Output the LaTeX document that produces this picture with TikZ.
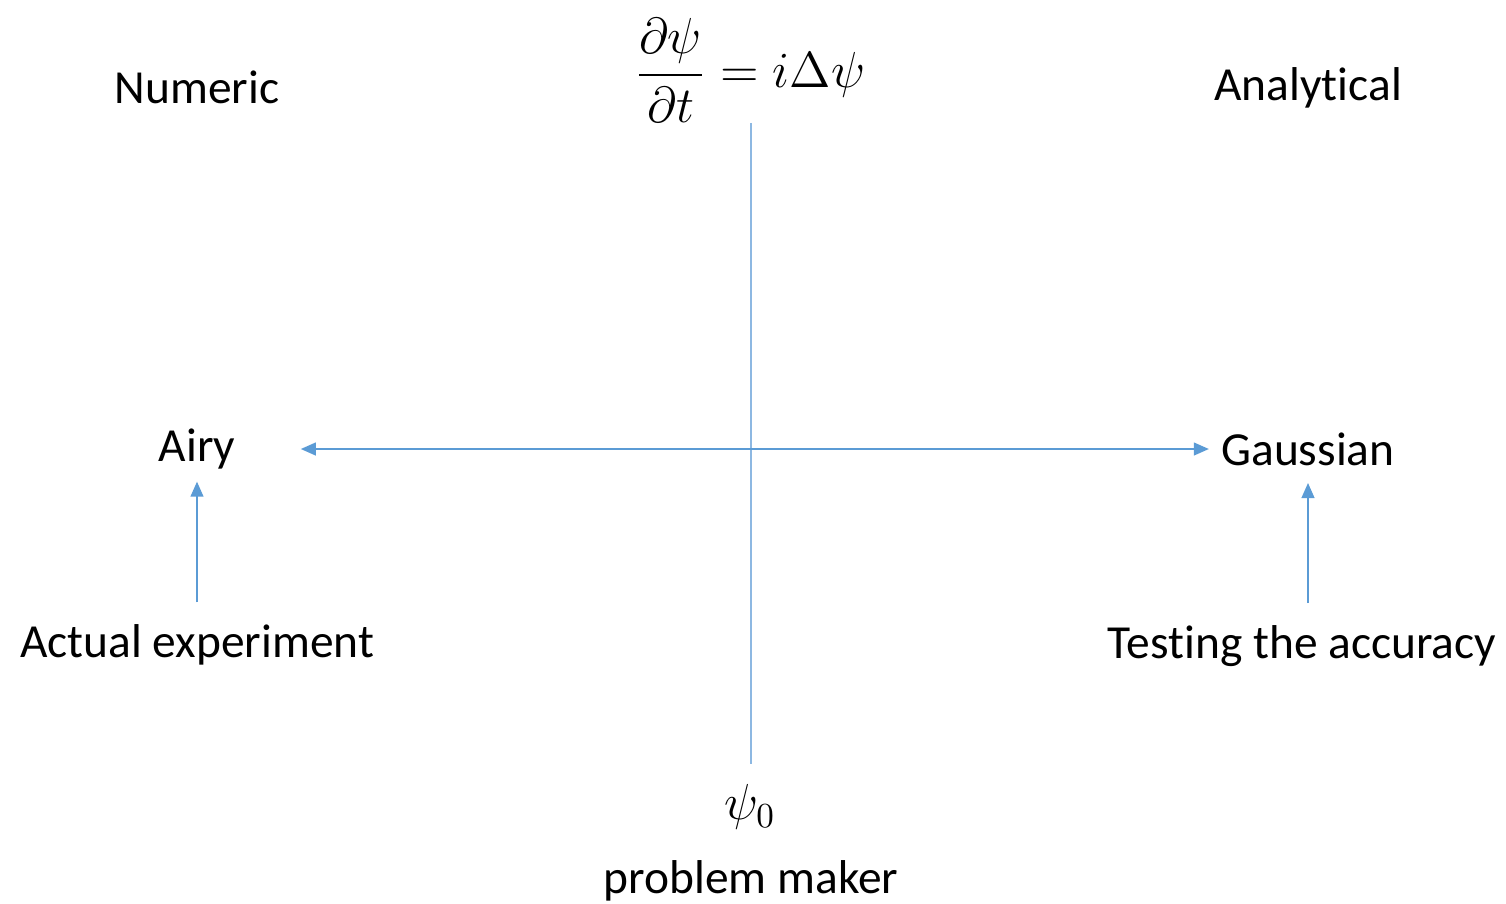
\documentclass[tikz,border=0pt]{standalone}
\usepackage{amsmath, amssymb}
\usepackage{fontspec}
\setmainfont{Carlito}[Ligatures=CommonOff]
\usepackage{tikz}
\usetikzlibrary{
  arrows.meta,%
  calc,%
  positioning
}
\definecolor{officeblue}{HTML}{5B9BD5}
\definecolor{axisblue}{HTML}{8DB8E2}
\tikzset{>={Triangle[length=4.3pt,width=3.6pt]}}
\tikzset{font=\fontsize{13.5}{16}\selectfont}
\tikzset{flow/.style={->, officeblue, line width=0.65pt},
  axisline/.style={axisblue, line width=0.45pt}}

\begin{document}
\begin{tikzpicture}
  \useasboundingbox (0,0) rectangle (15.06,-9.03);
  % corner titles
  \node (numeric) at (1.97,-0.87) {Numeric};
  \node (analytic) at (13.08,-0.88) {Analytical};
  % the equation and the initial state
  \node[inner sep=0pt, font=\fontsize{15}{18}\selectfont] (eq) at (7.50,-0.70)
  {$\displaystyle \frac{\partial\psi}{\partial t} = i\Delta\psi$};
  \node[font=\fontsize{14.5}{17}\selectfont] (psi) at (7.50,-8.07) {$\psi_0$};
  \node (maker) at (7.51,-8.81) {problem maker};
  % the two solutions
  \node (airy) at (1.97,-4.49) {Airy};
  \node (gauss) at (13.08,-4.49) {Gaussian};
  \node (actual) at (1.97,-6.45) {Actual experiment};
  \node (testing) at (13.02,-6.46) {Testing the accuracy};
  % axes
  \draw[axisline] (eq.south -| 7.51,0) -- ($(psi.north -| 7.51,0)+(0,0.08)$);
  \draw[flow, <->, shorten <=0.53cm] (airy) -- (gauss);
  \draw[flow, shorten <=0.1cm] (actual) -- (airy);
  \draw[flow, shorten <=0.1cm, shorten >=0.05cm] (testing.north -| gauss) -- (gauss);
\end{tikzpicture}
\end{document}
